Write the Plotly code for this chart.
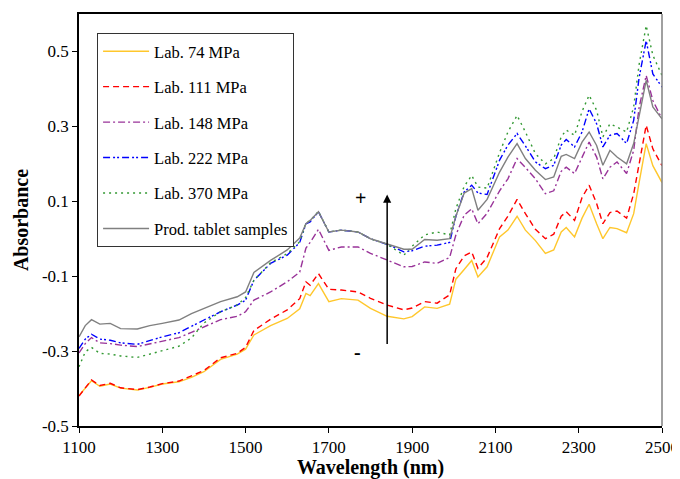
import plotly.graph_objects as go

wavelength = [1100, 1115, 1130, 1150, 1175, 1200, 1240, 1270, 1300, 1340, 1370, 1400, 1440, 1480,
              1500, 1520, 1560, 1600, 1630, 1645, 1655, 1675, 1700, 1730, 1770, 1800, 1840, 1880,
              1900, 1930, 1960, 1990, 2005, 2025, 2043, 2058, 2080, 2110, 2130, 2152, 2172, 2196,
              2220, 2240, 2258, 2270, 2290, 2308, 2325, 2343, 2358, 2375, 2392, 2415, 2432, 2445,
              2462, 2478, 2500]

lab_74 = [-0.419, -0.400, -0.379, -0.394, -0.388, -0.399, -0.404, -0.397, -0.388, -0.382, -0.370,
          -0.355, -0.322, -0.308, -0.295, -0.257, -0.232, -0.213, -0.187, -0.146, -0.152, -0.120,
          -0.168, -0.160, -0.164, -0.186, -0.207, -0.214, -0.208, -0.182, -0.186, -0.175, -0.108,
          -0.082, -0.058, -0.102, -0.075, 0.005, 0.023, 0.060, 0.023, -0.005, -0.039, -0.030,
          0.018, 0.030, 0.005, 0.055, 0.092, 0.040, 0.000, 0.030, 0.027, 0.016, 0.067, 0.150,
          0.254, 0.195, 0.150]

lab_111 = [-0.420, -0.398, -0.377, -0.392, -0.386, -0.398, -0.403, -0.396, -0.387, -0.380, -0.367,
           -0.352, -0.318, -0.306, -0.290, -0.245, -0.215, -0.190, -0.160, -0.115, -0.124, -0.093,
           -0.135, -0.137, -0.142, -0.159, -0.177, -0.190, -0.185, -0.168, -0.172, -0.150, -0.080,
           -0.046, -0.035, -0.079, -0.050, 0.027, 0.060, 0.105, 0.067, 0.025, 0.000, 0.012,
           0.060, 0.072, 0.049, 0.110, 0.143, 0.094, 0.040, 0.070, 0.074, 0.055, 0.120, 0.200,
           0.303, 0.240, 0.195]

lab_148 = [-0.305, -0.280, -0.264, -0.278, -0.280, -0.284, -0.288, -0.281, -0.273, -0.264, -0.250,
           -0.235, -0.216, -0.207, -0.195, -0.164, -0.142, -0.115, -0.089, -0.025, -0.010, 0.025,
           -0.031, -0.022, -0.022, -0.039, -0.057, -0.075, -0.074, -0.062, -0.066, -0.050, 0.010,
           0.063, 0.080, 0.040, 0.068, 0.128, 0.160, 0.214, 0.190, 0.160, 0.120, 0.128,
           0.180, 0.191, 0.174, 0.218, 0.258, 0.218, 0.160, 0.191, 0.205, 0.174, 0.236, 0.350,
           0.436, 0.369, 0.320]

lab_222 = [-0.293, -0.268, -0.255, -0.268, -0.271, -0.278, -0.282, -0.272, -0.262, -0.251, -0.233,
           -0.217, -0.195, -0.177, -0.164, -0.111, -0.066, -0.044, -0.010, 0.040, 0.045, 0.072,
           0.018, 0.023, 0.018, 0.000, -0.015, -0.035, -0.032, -0.020, -0.017, -0.010, 0.060,
           0.125, 0.143, 0.122, 0.118, 0.210, 0.250, 0.281, 0.248, 0.205, 0.187, 0.196,
           0.250, 0.265, 0.245, 0.285, 0.347, 0.307, 0.245, 0.276, 0.281, 0.254, 0.316, 0.430,
           0.529, 0.440, 0.405]

lab_370 = [-0.342, -0.302, -0.290, -0.306, -0.308, -0.313, -0.317, -0.308, -0.300, -0.287, -0.265,
           -0.225, -0.195, -0.177, -0.157, -0.111, -0.064, -0.040, -0.008, 0.042, 0.048, 0.073,
           0.018, 0.023, 0.018, 0.000, -0.015, -0.044, -0.020, 0.010, 0.018, 0.010, 0.080,
           0.140, 0.169, 0.138, 0.135, 0.230, 0.285, 0.329, 0.285, 0.227, 0.200, 0.214,
           0.272, 0.290, 0.276, 0.340, 0.383, 0.343, 0.272, 0.307, 0.298, 0.285, 0.352, 0.465,
           0.569, 0.490, 0.436]

prod = [-0.262, -0.232, -0.216, -0.228, -0.226, -0.240, -0.241, -0.232, -0.226, -0.217, -0.200,
        -0.186, -0.168, -0.155, -0.142, -0.090, -0.058, -0.030, 0.002, 0.040, 0.049, 0.072,
        0.018, 0.023, 0.018, 0.000, -0.013, -0.028, -0.028, -0.002, -0.004, 0.000, 0.060,
        0.122, 0.134, 0.076, 0.105, 0.178, 0.218, 0.254, 0.214, 0.183, 0.158, 0.165,
        0.220, 0.225, 0.214, 0.258, 0.285, 0.249, 0.196, 0.236, 0.218, 0.200, 0.254, 0.330,
        0.423, 0.352, 0.320]

series_names = ["Lab. 74 MPa", "Lab. 111 MPa", "Lab. 148 MPa", "Lab. 222 MPa", "Lab. 370 MPa",
                "Prod. tablet samples"]
series_values = [lab_74, lab_111, lab_148, lab_222, lab_370, prod]
colors = ["#FFC72C", "#FF0000", "#993399", "#0000FF", "#339933", "#808080"]
dashes = ["solid", "6px,4px", "7px,3px,2px,3px", "7px,3px,2px,2px,2px,3px", "2px,4px", "solid"]

x_ticks = [1100, 1300, 1500, 1700, 1900, 2100, 2300, 2500]
y_ticks = [-0.5, -0.3, -0.1, 0.1, 0.3, 0.5]

fig = go.Figure()
for name, vals, c, d in zip(series_names, series_values, colors, dashes):
    fig.add_trace(go.Scatter(x=wavelength, y=vals, mode="lines", name=name, legendgroup=name,
                             line=dict(color=c, width=1.4, dash=d)))

serif = "Liberation Serif, Times New Roman, serif"

fig.add_annotation(x=1840, y=0.118, ax=1840, ay=-0.285, xref="x", yref="y", axref="x", ayref="y",
                   text="", showarrow=True, arrowhead=2, arrowsize=1.1, arrowwidth=1.5,
                   arrowcolor="black")
fig.add_annotation(x=1775, y=0.108, text="<b>+</b>", showarrow=False,
                   font=dict(family=serif, size=20, color="black"))
fig.add_annotation(x=1768, y=-0.302, text="<b>-</b>", showarrow=False,
                   font=dict(family=serif, size=20, color="black"))

fig.add_shape(type="line", xref="paper", yref="paper", x0=1, x1=1, y0=0, y1=1,
              line=dict(color="#808080", width=1.5))

# page body has an 8px margin, so the figure is sized/offset to compensate
fig.update_layout(
    width=672, height=471,
    margin=dict(l=71, r=18, t=6, b=53, autoexpand=False),
    paper_bgcolor="white", plot_bgcolor="white",
    font=dict(family=serif, size=17, color="black"),
    showlegend=True,
    legend=dict(x=0.031, y=0.954, xanchor="left", yanchor="top",
                bordercolor="#333333", borderwidth=1, bgcolor="white",
                font=dict(family=serif, size=16.5, color="black"),
                traceorder="grouped", tracegroupgap=11, itemwidth=46),
    xaxis=dict(range=[1100, 2500], tickvals=x_ticks, ticktext=[str(v) for v in x_ticks],
               showgrid=False, zeroline=False, showline=True, linecolor="black", linewidth=1.5,
               mirror=True, ticks="outside", ticklen=5, tickcolor="black", automargin=False,
               title=dict(text="<b>Wavelength (nm)</b>", font=dict(family=serif, size=20),
                          standoff=6)),
    yaxis=dict(range=[-0.5, 0.6], tickvals=y_ticks, ticktext=["-0.5", "-0.3", "-0.1", "0.1", "0.3", "0.5"],
               showgrid=False, zeroline=False, showline=True, linecolor="black", linewidth=1.5,
               ticks="outside", ticklen=5, tickcolor="black", automargin=False,
               title=dict(text="<b>Absorbance</b>", font=dict(family=serif, size=20),
                          standoff=8)),
)

fig.write_html("out.html")
